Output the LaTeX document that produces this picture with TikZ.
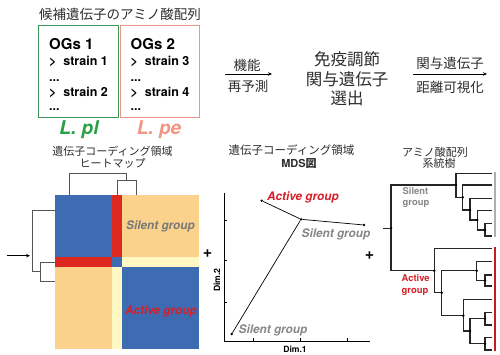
\documentclass[tikz,border=0pt]{standalone}
\usepackage{fontspec}
\setmainfont{TeX Gyre Heros}
\newfontfamily\jp{Noto Sans CJK JP}
\usetikzlibrary{arrows.meta}
\definecolor{hblue}{RGB}{62,108,178}
\definecolor{horange}{RGB}{250,210,140}
\definecolor{hred}{RGB}{220,40,30}
\definecolor{hyellow}{RGB}{255,248,195}
\definecolor{ogreen}{RGB}{60,150,90}
\definecolor{opink}{RGB}{232,150,140}
\definecolor{lgreen}{RGB}{40,160,70}
\definecolor{lpink}{RGB}{242,150,130}
\definecolor{txt}{RGB}{45,45,45}
\definecolor{sgray}{RGB}{135,135,135}
\definecolor{ared}{RGB}{215,30,40}
\definecolor{dgray}{RGB}{85,85,85}
\definecolor{bargray}{RGB}{175,175,175}
\tikzset{
  jpa/.style={inner sep=0pt, text=txt, font=\jp\fontsize{13.5}{16}\selectfont},
  jpb/.style={inner sep=0pt, text=txt, font=\jp\fontsize{11}{12}\selectfont},
  ogs/.style={inner sep=0pt, anchor=base west, font=\bfseries\fontsize{15}{18}\selectfont},
  strn/.style={inner sep=0pt, anchor=base west, font=\bfseries\fontsize{12.5}{15}\selectfont},
  spec/.style={inner sep=0pt, anchor=base, font=\bfseries\itshape\fontsize{19}{22}\selectfont},
  grp/.style={inner sep=0pt, font=\bfseries\itshape\fontsize{11.8}{14}\selectfont},
  tgrp/.style={inner sep=0pt, anchor=west, align=left, font=\bfseries\fontsize{9.4}{11.6}\selectfont},
  plus/.style={inner sep=0pt, font=\bfseries\fontsize{16}{18}\selectfont},
  dimlab/.style={inner sep=0pt, font=\bfseries\fontsize{8.6}{10}\selectfont},
  dend/.style={draw=dgray, line width=0.6pt},
  tree/.style={draw=black!85, line width=1.1pt},
  arr/.style={-{Stealth[length=4pt,width=3.5pt]}, line width=0.8pt},
  pt/.style={circle, fill=black, inner sep=0pt, minimum size=2.6pt},
  tdot/.style={circle, fill=black, inner sep=0pt, minimum size=2.8pt}
}
\begin{document}
\begin{tikzpicture}[x=1pt,y=-1pt]
\useasboundingbox (0,0) rectangle (500,355);
\fill[white] (0,0) rectangle (500,355);
% ---------- top row ----------
\node[jpa] (title) at (120,14) {候補遺伝子のアミノ酸配列};
\node[draw=ogreen, line width=1pt, minimum width=80pt, minimum height=92pt, inner sep=0pt] (box1) at (78,72) {};
\node[draw=opink, line width=1pt, minimum width=79pt, minimum height=92pt, inner sep=0pt] (box2) at (159.5,72) {};
\node[ogs] (og1) at (49,50) {OGs 1};
\node[strn] (s1) at (49,65.5) {>\hspace{0.55em}strain 1};
\node[strn] (d1) at (49,81.5) {...};
\node[strn] (s2) at (49,96.5) {>\hspace{0.55em}strain 2};
\node[strn] (d2) at (49,111) {...};
\node[ogs] (og2) at (130.5,50) {OGs 2};
\node[strn] (s3) at (130.5,65.5) {>\hspace{0.55em}strain 3};
\node[strn] (d3) at (130.5,81.5) {...};
\node[strn] (s4) at (130.5,96.5) {>\hspace{0.55em}strain 4};
\node[strn] (d4) at (130.5,111) {...};
\node[spec, text=lgreen] (lpl) at (79,135) {L. pl};
\node[spec, text=lpink] (lpe) at (159,135) {L. pe};
% arrow 1
\coordinate (a1s) at (225,74);
\coordinate (a1e) at (272,74);
\draw[arr] (a1s) -- (a1e);
\node[jpa] (a1t) at (247,65) {機能};
\node[jpa] (a1b) at (248,86) {再予測};
% middle
\node[jpa, font=\jp\fontsize{16.5}{19.5}\selectfont, align=center] (mid) at (347,79) {免疫調節\\関与遺伝子\\選出};
% arrow 2
\coordinate (a2s) at (413,74);
\coordinate (a2e) at (487,74);
\draw[arr] (a2s) -- (a2e);
\node[jpa] (a2t) at (450,63) {関与遺伝子};
\node[jpa] (a2b) at (450,87) {距離可視化};
% ---------- heatmap ----------
\node[jpb, align=center] (htitle) at (112.5,157.5) {遺伝子コーディング領域\\ヒートマップ};
\fill[hblue] (55,195.5) rectangle (112,257);
\fill[hred] (112,195.5) rectangle (122,257);
\fill[horange] (122,195.5) rectangle (199,257);
\fill[hred] (55,257) rectangle (112,267);
\fill[hblue] (112,257) rectangle (122,267);
\fill[hyellow] (122,257) rectangle (199,267);
\fill[horange] (55,267) rectangle (112,349);
\fill[hyellow] (112,267) rectangle (122,349);
\fill[hblue] (122,267) rectangle (199,349);
\draw[dend] (69.3,195.5) |- (126.7,173.3) -- (126.7,180.7);
\draw[dend] (117.3,195.5) |- (136,180.7) -- (136,195.5);
\draw[dend] (55,210.7) -| (32.3,271.7) -- (40,271.7);
\draw[dend] (55,262.7) -| (40,281.7) -- (55,281.7);
\coordinate (inS) at (7,255.7);
\coordinate (inE) at (30,255.7);
\draw[arr, line width=0.7pt] (inS) -- (inE);
\node[grp, text=sgray!90!black] (hs) at (160.5,226.7) {Silent group};
\node[grp, text=ared] (ha) at (161,311.7) {Active group};
\node[plus] (p1) at (207.5,254) {+};
% ---------- MDS ----------
\node[jpb, font=\jp\fontsize{11.5}{12}\selectfont] (mt1) at (291.5,150.5) {遺伝子コーディング領域};
\node[inner sep=0pt, text=txt, font=\bfseries\fontsize{11}{12}\selectfont] (mt2) at (299,163.5) {MDS{\jp 図}};
\coordinate (ax0) at (224,341);
\coordinate (axy) at (224,193);
\coordinate (axx) at (370,341);
\draw[line width=0.6pt] (axy) -- (ax0) -- (axx);
\foreach \yy in {220,260,302} \draw[line width=0.5pt] (224,\yy) -- (227,\yy);
\foreach \xx in {253,300,347} \draw[line width=0.5pt] (\xx,341) -- (\xx,338);
\node[pt] (pa) at (261.7,200.7) {};
\node[pt] (pc) at (301,219.3) {};
\node[pt] (pr) at (364,225) {};
\node[pt] (pb) at (231.7,334) {};
\draw[line width=0.7pt] (pa) -- (pc) -- (pr);
\draw[line width=0.7pt] (pc) -- (pb);
\node[grp, text=ared] (ma) at (303,197) {Active group};
\node[grp, text=sgray] (ms1) at (336,234) {Silent group};
\node[grp, text=sgray] (ms2) at (273,330.7) {Silent group};
\node[dimlab, rotate=90] (d2lab) at (217,280) {Dim.2};
\node[dimlab] (d1lab) at (295,349) {Dim.1};
\node[plus] (p2) at (369.5,256) {+};
% ---------- tree ----------
\node[jpb] (tt1) at (435,152) {アミノ酸配列};
\node[jpb] (tt2) at (439,163.5) {系統樹};
\draw[tree] (383,228.3) -- (391,228.3);
\draw[tree] (456,185) -| (391,270.7) -- (434.3,270.7);
% top clade
\draw[tree] (492,173.3) -| (456,197.3) -- (462.7,197.3);
\draw[tree] (492,185) -| (462.7,210) -- (470,210);
\draw[tree] (492,198.3) -| (470,220) -- (477.3,220);
\draw[tree] (492,210.7) -| (477.3,230) -- (485,230);
\draw[tree] (492,223.3) -| (485,236) -- (492,236);
% bottom clade
\draw[tree] (492,248.3) -| (434.3,292.7) -- (441.7,292.7);
\draw[tree] (476.7,270.7) -| (441.7,315.7) -- (463.3,315.7);
\draw[tree] (492,261.7) -| (476.7,280.5) -- (485,280.5);
\draw[tree] (492,275) -| (485,286) -- (492,286);
\draw[tree] (492,299.3) -| (463.3,331) -- (470,331);
\draw[tree] (485,318.7) -| (470,343.7) -- (485,343.7);
\draw[tree] (492,312.7) -| (485,325) -- (492,325);
\draw[tree] (492,337.3) -| (485,350) -- (492,350);
\foreach \p in {(391,228.3),(456,185),(462.7,197.3),(470,210),(477.3,220),(485,230),
  (434.3,270.7),(441.7,292.7),(476.7,270.7),(485,280.5),(463.3,315.7),(470,331),(485,318.7),(485,343.7)}
  \node[tdot] at \p {};
\draw[bargray, line width=1.4pt] (495,172) -- (495,237);
\draw[ared!90!black, line width=1.4pt] (495,247) -- (495,351);
\node[tgrp, text=sgray] (tsil) at (402.5,197.5) {Silent\\group};
\node[tgrp, text=ared] (tact) at (401.5,285) {Active\\group};
\end{tikzpicture}
\end{document}
